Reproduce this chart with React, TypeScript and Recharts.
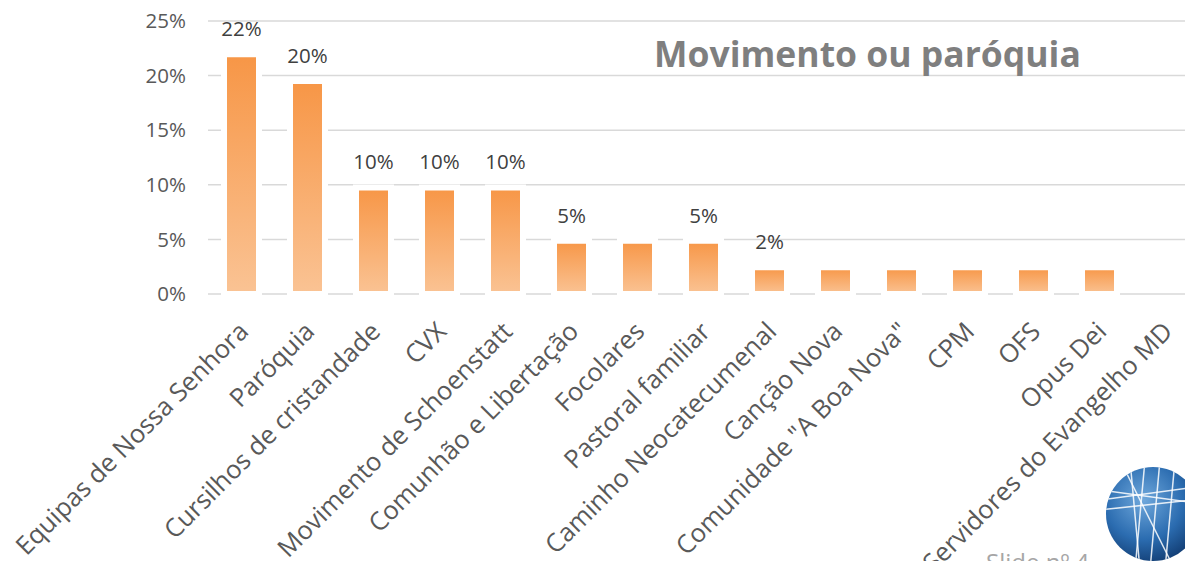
import React from "react";
import { BarChart, Bar, XAxis, YAxis, CartesianGrid, LabelList } from "recharts";

const categories = [
  "Equipas de Nossa Senhora",
  "Paróquia",
  "Cursilhos de cristandade",
  "CVX",
  "Movimento de Schoenstatt",
  "Comunhão e Libertação",
  "Focolares",
  "Pastoral familiar",
  "Caminho Neocatecumenal",
  "Canção Nova",
  "Comunidade \"A Boa Nova\"",
  "CPM",
  "OFS",
  "Opus Dei",
  "Servidores do Evangelho MD",
];
const shares = [0.2195, 0.1951, 0.0976, 0.0976, 0.0976, 0.0488, 0.0488, 0.0488, 0.0244, 0.0244, 0.0244, 0.0244, 0.0244, 0.0244, 0];
const valueLabels = ["22%", "20%", "10%", "10%", "10%", "5%", "", "5%", "2%", "", "", "", "", "", ""];
const yTicks = [0, 0.05, 0.1, 0.15, 0.2, 0.25];
const title = "Movimento ou paróquia";
const slideText = "Slide nº 4";

const data = categories.map((name, i) => ({ name, value: shares[i], label: valueLabels[i] }));

const FONT = "'Open Sans', sans-serif";

const XTick = (props: any) => {
  const { x, y, payload } = props;
  const tx = x + 9;
  const ty = y + 39;
  return (
    <text
      x={tx}
      y={ty}
      transform={`rotate(-45 ${tx} ${ty})`}
      textAnchor="end"
      fill="#595959"
      fontSize={25.5}
      fontFamily={FONT}
    >
      {payload.value}
    </text>
  );
};

const ValueLabel = (props: any) => {
  const { x, y, width, value } = props;
  if (!value) return null;
  return (
    <text x={x + width / 2} y={y - 18} textAnchor="middle" fill="#404040" fontSize={20.5} fontFamily={FONT}>
      {value}
    </text>
  );
};

export default function App() {
  return (
    <div style={{ position: "absolute", left: 0, top: 0, width: 1185, height: 561, overflow: "hidden", background: "#fff" }}>
      <BarChart
        width={1210}
        height={561}
        data={data}
        margin={{ top: 21, right: 12, left: 0, bottom: 0 }}
        barSize={35}
      >
        <defs>
          <linearGradient id="barGrad" x1="0" y1="0" x2="0" y2="1">
            <stop offset="0%" stopColor="#F79646" />
            <stop offset="100%" stopColor="#FAC394" />
          </linearGradient>
        </defs>
        <CartesianGrid vertical={false} stroke="#d9d9d9" strokeWidth={1.5} />
        <XAxis
          dataKey="name"
          interval={0}
          height={267}
          axisLine={false}
          tickLine={false}
          tickSize={0}
          tickMargin={0}
          tick={<XTick />}
        />
        <YAxis
          width={208}
          domain={[0, 0.25]}
          ticks={yTicks}
          axisLine={false}
          tickLine={false}
          tickSize={0}
          tickMargin={22}
          tickFormatter={(v: number) => `${Math.round(v * 100)}%`}
          tick={{ fill: "#595959", fontSize: 20.5, fontFamily: FONT }}
        />
        <Bar dataKey="value" fill="url(#barGrad)" stroke="#ffffff" strokeWidth={6} isAnimationActive={false}>
          <LabelList dataKey="label" content={<ValueLabel />} />
        </Bar>
      </BarChart>
      <svg width={1185} height={561} style={{ position: "absolute", left: 0, top: 0, pointerEvents: "none" }}>
        <defs>
          <radialGradient id="logoGrad" cx="40%" cy="35%" r="70%">
            <stop offset="0%" stopColor="#6fa8dc" />
            <stop offset="60%" stopColor="#2b6cb0" />
            <stop offset="100%" stopColor="#123d73" />
          </radialGradient>
          <clipPath id="logoClip">
            <circle cx={1153} cy={514} r={47} />
          </clipPath>
        </defs>
        <text x={654} y={67} fill="#7f7f7f" fontSize={35.5} fontWeight={700} fontFamily={FONT}>
          {title}
        </text>
        <text x={986} y={571} fill="#a6a6a6" fontSize={24} fontFamily={FONT}>
          {slideText}
        </text>
        <circle cx={1153} cy={514} r={47} fill="url(#logoGrad)" />
        <g clipPath="url(#logoClip)" stroke="#ffffff" strokeOpacity={0.85} strokeWidth={1.5} fill="none">
          <line x1={1100} y1={500} x2={1210} y2={485} />
          <line x1={1100} y1={510} x2={1210} y2={498} />
          <line x1={1100} y1={490} x2={1210} y2={505} />
          <line x1={1130} y1={460} x2={1140} y2={570} />
          <line x1={1145} y1={460} x2={1135} y2={570} />
          <line x1={1160} y1={460} x2={1150} y2={570} />
          <line x1={1120} y1={460} x2={1175} y2={570} />
          <line x1={1175} y1={460} x2={1165} y2={570} />
        </g>
      </svg>
    </div>
  );
}
